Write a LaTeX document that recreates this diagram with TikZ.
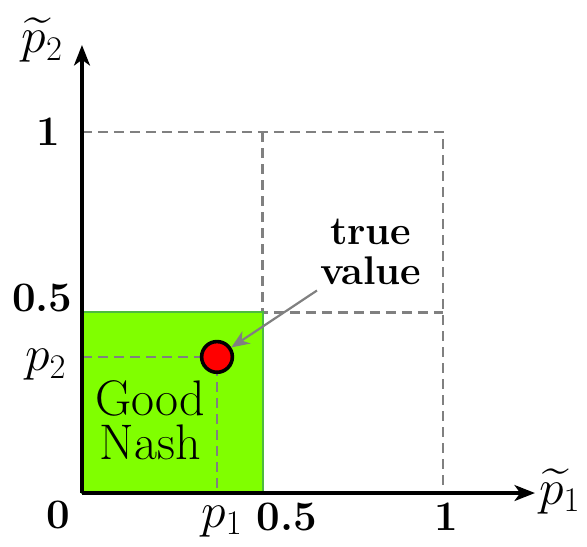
\documentclass[tikz,border=0pt]{standalone}
\usepackage{amsmath,amssymb}
\usetikzlibrary{positioning,arrows.meta}
\definecolor{goodFill}{RGB}{128,255,0}
\definecolor{goodLine}{RGB}{76,187,63}
\definecolor{gridLine}{RGB}{128,128,128}
\definecolor{dotFill}{RGB}{255,0,0}
\begin{document}
\begin{tikzpicture}[x=180.5pt,y=180.5pt,font=\fontsize{21}{22}\selectfont,
  axis/.style ={->,line width=1.6pt,>={Stealth[length=3.6mm,width=2.8mm,inset=1mm]}},
  guide/.style={draw=gridLine,line width=1.1pt,dash pattern=on 5pt off 3pt},
  good/.style ={draw=goodLine,line width=0.9pt,fill=goodFill},
  tick/.style ={inner sep=1pt},
  lab/.style  ={inner sep=0pt,align=center,font=\fontsize{24}{21}\selectfont},
  pointer/.style={->,draw=gridLine,line width=1.1pt,>={Stealth[length=3.2mm,width=2.6mm,inset=1mm]}}]
\useasboundingbox (-0.2271,-0.1468) rectangle (1.3989,1.3657);

% grid lines
\draw[guide] (0,1) -- (1,1) -- (1,0);
\draw[guide] (0.5,1) -- (0.5,0.5) -- (1,0.5);

% good Nash region
\draw[good] (0,0) rectangle (0.501,0.501);
\node[lab,anchor=north west,font=\fontsize{25}{22}\selectfont] (gn) at (0.035,0.312) {Good\\Nash};

% true value point
\coordinate (tv) at (0.374,0.377);
\coordinate (tvx) at (0.374,0);
\coordinate (tvy) at (0,0.377);
\draw[guide] (tvy) -- (tv) -- (tvx);
\node[circle,draw=black,line width=1.8pt,fill=dotFill,minimum size=5.4mm,inner sep=0pt] (dot) at (tv) {};
\node[lab,font=\fontsize{20}{20}\selectfont\bfseries] (tvl) at (0.8,0.668) {true\\value};
\draw[pointer] (0.651,0.561) -- (dot);

% axes
\coordinate (o) at (0,0);
\coordinate (xe) at (1.2548,0);
\coordinate (ye) at (0,1.241);
\draw[axis] (o) -- (xe);
\draw[axis] (o) -- (ye);
\node[lab,anchor=west] (xl) at (1.265,0.005) {$\widetilde{p}_1$};
\node[lab] (yl) at (-0.11,1.255) {$\widetilde{p}_2$};

% ticks
\node[tick] (t0) at (-0.066,-0.061) {\textbf{0}};
\node[lab] (tp1) at (0.388,-0.078) {$p_1$};
\node[tick] (tx5) at (0.567,-0.066) {\textbf{0.5}};
\node[tick] (tx1) at (1.008,-0.066) {\textbf{1}};
\node[tick] (ty1) at (-0.094,1.0) {\textbf{1}};
\node[tick] (ty5) at (-0.11,0.54) {\textbf{0.5}};
\node[lab] (tp2) at (-0.1,0.355) {$p_2$};
\end{tikzpicture}
\end{document}
